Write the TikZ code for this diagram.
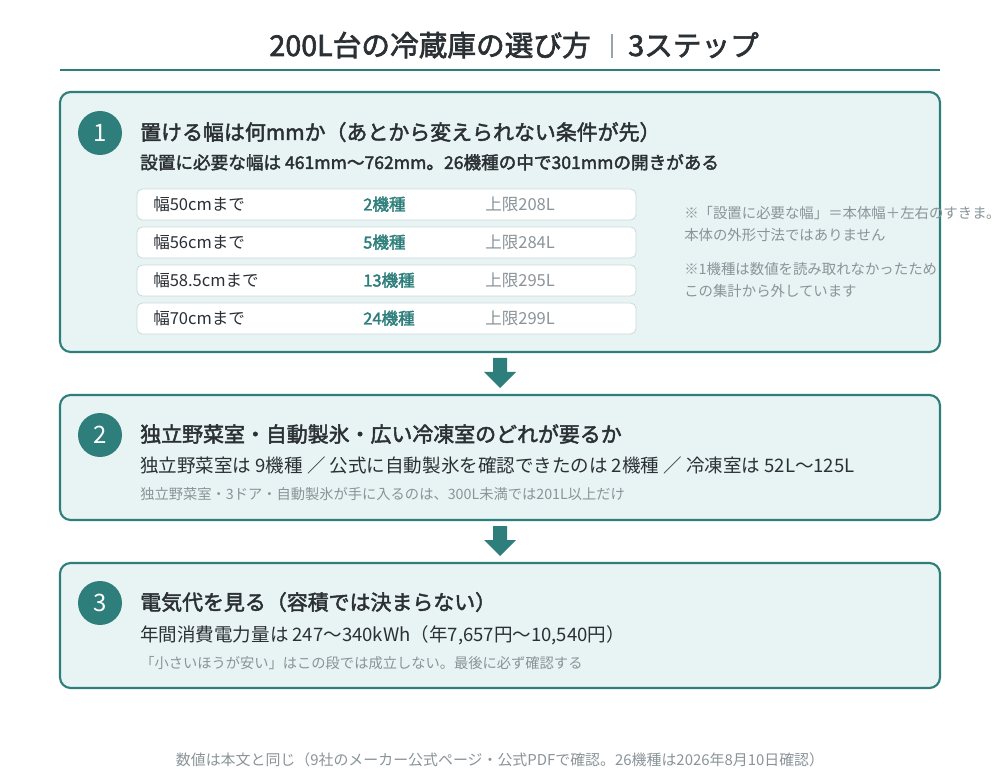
\documentclass[tikz,border=0pt]{standalone}
\usepackage{fontspec}
\setmainfont{Noto Sans CJK JP}
\newfontfamily\medfont[FakeBold=2.2]{Noto Sans CJK JP}
\definecolor{teal1}{HTML}{2E7F7B}
\definecolor{tealfill}{HTML}{E8F3F3}
\definecolor{darktext}{HTML}{2B3035}
\definecolor{greytext}{HTML}{8A9499}
\definecolor{rowborder}{HTML}{CDDADA}
\definecolor{sepgrey}{HTML}{9AA3A8}
\tikzset{
  stepbox/.style={draw=teal1, line width=1.6pt, fill=tealfill, rounded corners=8pt},
  rowbox/.style={draw=rowborder, line width=0.6pt, fill=white, rounded corners=4pt},
  badge/.style={circle, fill=teal1, minimum size=33pt, inner sep=0pt, text=white, font=\fontsize{18}{18}\selectfont},
  txt/.style={inner sep=0pt, anchor=base west},
  heading/.style={txt, text=darktext, font=\fontsize{15.7}{18}\selectfont\medfont},
  sub/.style={txt, text=darktext, font=\fontsize{13.9}{16}\selectfont},
  subb/.style={txt, text=darktext, font=\fontsize{13.2}{15}\selectfont\medfont},
  small/.style={txt, text=greytext, font=\fontsize{10.7}{13}\selectfont},
  rowtxt/.style={txt, text=darktext, font=\fontsize{12.4}{14}\selectfont},
  rowcnt/.style={txt, text=teal1, font=\fontsize{12.4}{14}\selectfont\medfont},
  rowlim/.style={txt, text=greytext, font=\fontsize{12.4}{14}\selectfont},
  note/.style={txt, text=greytext, font=\fontsize{10.8}{13}\selectfont},
  downarrow/.style={fill=teal1, draw=none}
}
\begin{document}
\begin{tikzpicture}[x=0.75pt,y=-0.75pt]
\useasboundingbox (0,0) rectangle (1000,780);
\fill[white] (0,0) rectangle (1000,780);
% title
\node[txt, anchor=base east, text=darktext, font=\fontsize{21.5}{24}\selectfont\medfont] (t1) at (591,56) {200L台の冷蔵庫の選び方};
\draw[sepgrey, line width=0.8pt] (612,34) -- (612,58);
\node[txt, text=darktext, font=\fontsize{21.5}{24}\selectfont\medfont] (t2) at (628,56) {3ステップ};
\draw[teal1, line width=1.6pt] (60,70) -- (940,70);

% box 1
\draw[stepbox] (60,92) rectangle (940,352);
\node[badge] (b1) at (100,133) {1};
\node[heading] (h1) at (140,140) {置ける幅は何mmか（あとから変えられない条件が先）};
\node[subb] (s1) at (140,169) {設置に必要な幅は 461mm〜762mm。26機種の中で301mmの開きがある};
\foreach \y/\a/\b/\c [count=\i] in {189/幅50cmまで/2機種/上限208L, 227/幅56cmまで/5機種/上限284L, 265/幅58.5cmまで/13機種/上限295L, 303/幅70cmまで/24機種/上限299L}{
  \draw[rowbox] (137,\y) rectangle (636,\y+31);
  \node[rowtxt] (ra\i) at (153,\y+21.5) {\a};
  \node[rowcnt] (rb\i) at (363,\y+21.5) {\b};
  \node[rowlim] (rc\i) at (485,\y+21.5) {\c};
}
\node[note] (n1) at (684,219) {※「設置に必要な幅」＝本体幅＋左右のすきま。};
\node[note] (n2) at (684,241) {本体の外形寸法ではありません};
\node[note] (n3) at (684,275) {※1機種は数値を読み取れなかったため};
\node[note] (n4) at (684,297) {この集計から外しています};

% arrow 1
\fill[downarrow] (493,358) -- (507,358) -- (507,372) -- (516,372) -- (500,388) -- (484,372) -- (493,372) -- cycle;

% box 2
\draw[stepbox] (60,395) rectangle (940,520);
\node[badge] (b2) at (100,435) {2};
\node[heading] (h2) at (140,442) {独立野菜室・自動製氷・広い冷凍室のどれが要るか};
\node[sub] (s2) at (140,473) {独立野菜室は 9機種 ／ 公式に自動製氷を確認できたのは 2機種 ／ 冷凍室は 52L〜125L};
\node[small] (m2) at (140,500) {独立野菜室・3ドア・自動製氷が手に入るのは、300L未満では201L以上だけ};

% arrow 2
\fill[downarrow] (493,526) -- (507,526) -- (507,540) -- (516,540) -- (500,556) -- (484,540) -- (493,540) -- cycle;

% box 3
\draw[stepbox] (60,563) rectangle (940,688);
\node[badge] (b3) at (100,603) {3};
\node[heading] (h3) at (140,610) {電気代を見る（容積では決まらない）};
\node[sub] (s3) at (140,641) {年間消費電力量は 247〜340kWh（年7,657円〜10,540円）};
\node[small] (m3) at (140,668) {「小さいほうが安い」はこの段では成立しない。最後に必ず確認する};

% footer
\node[inner sep=0pt, anchor=base, text=greytext, font=\fontsize{11.2}{13}\selectfont] (f) at (500,765) {数値は本文と同じ（9社のメーカー公式ページ・公式PDFで確認。26機種は2026年8月10日確認）};
\end{tikzpicture}
\end{document}
